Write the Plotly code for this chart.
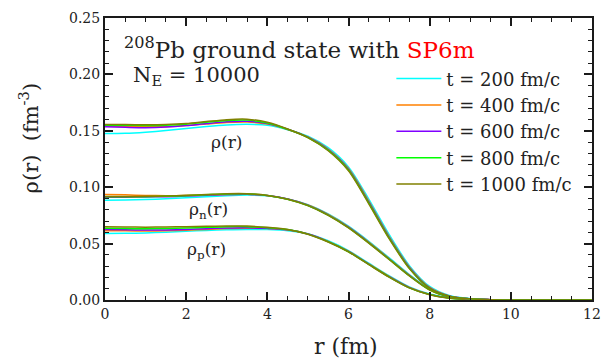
import plotly.graph_objects as go

# radial grid (fm)
R = [0, 0.5, 1, 1.5, 2, 2.5, 3, 3.5, 4, 4.5, 5, 5.5, 6, 6.5, 7, 7.5, 8, 8.5, 9, 9.5, 10, 11, 12]

TIMES = ["200", "400", "600", "800", "1000"]
COLORS = ["#00ffff", "#ff8000", "#8000ff", "#00ff00", "#808000"]

# total density rho(r)
RHO_200 = [0.1475,0.1478,0.1488,0.1502,0.1520,0.1538,0.1552,0.1557,0.1550,0.1510,0.1452,0.1350,0.1180,0.0895,0.0582,0.0305,0.0120,0.0038,0.0012,0.0003,0.0001,0,0]
RHO_400 = [0.1540,0.1538,0.1535,0.1537,0.1546,0.1560,0.1573,0.1577,0.1560,0.1512,0.1445,0.1338,0.1165,0.0877,0.0565,0.0293,0.0111,0.0034,0.0010,0.0003,0.0001,0,0]
RHO_600 = [0.1535,0.1531,0.1528,0.1533,0.1546,0.1564,0.1580,0.1584,0.1564,0.1514,0.1443,0.1333,0.1159,0.0869,0.0558,0.0288,0.0107,0.0033,0.0010,0.0003,0.0001,0,0]
RHO_800 = [0.1550,0.1549,0.1547,0.1550,0.1559,0.1576,0.1592,0.1595,0.1570,0.1514,0.1441,0.1328,0.1152,0.0861,0.0551,0.0282,0.0104,0.0032,0.0010,0.0003,0.0001,0,0]
RHO_1000 = [0.1556,0.1555,0.1553,0.1555,0.1564,0.1582,0.1599,0.1603,0.1575,0.1516,0.1439,0.1323,0.1145,0.0853,0.0544,0.0278,0.0102,0.0031,0.0010,0.0003,0.0001,0,0]

# neutron density rho_n(r)
RHON_200 = [0.0885,0.0886,0.0890,0.0897,0.0906,0.0916,0.0925,0.0930,0.0924,0.0896,0.0845,0.0764,0.0655,0.0521,0.0375,0.0226,0.0099,0.0033,0.0011,0.0003,0.0001,0,0]
RHON_400 = [0.0935,0.0932,0.0927,0.0925,0.0926,0.0930,0.0936,0.0938,0.0927,0.0895,0.0842,0.0758,0.0648,0.0513,0.0368,0.0220,0.0094,0.0030,0.0010,0.0003,0.0001,0,0]
RHON_600 = [0.0912,0.0912,0.0913,0.0916,0.0921,0.0929,0.0936,0.0938,0.0926,0.0895,0.0840,0.0755,0.0645,0.0510,0.0365,0.0218,0.0092,0.0030,0.0010,0.0003,0.0001,0,0]
RHON_800 = [0.0915,0.0915,0.0916,0.0919,0.0925,0.0933,0.0940,0.0941,0.0927,0.0894,0.0838,0.0753,0.0642,0.0507,0.0362,0.0215,0.0090,0.0029,0.0010,0.0003,0.0001,0,0]
RHON_1000 = [0.0918,0.0918,0.0919,0.0922,0.0928,0.0935,0.0942,0.0942,0.0927,0.0894,0.0837,0.0751,0.0639,0.0504,0.0359,0.0213,0.0089,0.0028,0.0009,0.0003,0.0001,0,0]

# proton density rho_p(r)
RHOP_200 = [0.0590,0.0591,0.0595,0.0601,0.0609,0.0617,0.0623,0.0626,0.0624,0.0614,0.0588,0.0525,0.0438,0.0326,0.0215,0.0116,0.0053,0.0018,0.0006,0.0002,0.0001,0,0]
RHOP_400 = [0.0615,0.0613,0.0612,0.0614,0.0619,0.0626,0.0633,0.0636,0.0633,0.0620,0.0586,0.0520,0.0432,0.0320,0.0209,0.0111,0.0050,0.0017,0.0006,0.0002,0.0001,0,0]
RHOP_600 = [0.0625,0.0622,0.0620,0.0621,0.0625,0.0632,0.0638,0.0640,0.0635,0.0622,0.0585,0.0518,0.0430,0.0318,0.0207,0.0110,0.0049,0.0017,0.0006,0.0002,0.0001,0,0]
RHOP_800 = [0.0635,0.0633,0.0632,0.0634,0.0638,0.0644,0.0650,0.0650,0.0641,0.0624,0.0584,0.0516,0.0428,0.0316,0.0205,0.0108,0.0048,0.0016,0.0006,0.0002,0.0001,0,0]
RHOP_1000 = [0.0650,0.0648,0.0646,0.0647,0.0650,0.0654,0.0657,0.0655,0.0644,0.0626,0.0583,0.0514,0.0426,0.0314,0.0203,0.0107,0.0047,0.0016,0.0005,0.0002,0.0001,0,0]

TOTAL = [RHO_200, RHO_400, RHO_600, RHO_800, RHO_1000]
NEUTRON = [RHON_200, RHON_400, RHON_600, RHON_800, RHON_1000]
PROTON = [RHOP_200, RHOP_400, RHOP_600, RHOP_800, RHOP_1000]

FONT = "DejaVu Serif"
TXT = "#222222"

fig = go.Figure()
for group_idx, group in enumerate([PROTON, NEUTRON, TOTAL]):
    for i, ys in enumerate(group):
        fig.add_trace(go.Scatter(
            x=R, y=ys, mode="lines",
            line=dict(color=COLORS[i], width=1.5, shape="spline", smoothing=0.8),
            name=f"t = {TIMES[i]} fm/c",
            legendgroup=TIMES[i],
            showlegend=(group_idx == 2),
            hoverinfo="skip",
        ))

axis_common = dict(
    showline=True, linecolor="#1a1a1a", linewidth=2, mirror="ticks",
    ticks="inside", ticklen=8, tickwidth=1.5, tickcolor="#1a1a1a",
    showgrid=False, zeroline=False, ticklabeloverflow="allow",
    tickfont=dict(family=FONT, size=14, color=TXT),
)

fig.update_layout(
    width=608, height=360,
    margin=dict(l=105, r=7, t=18, b=60),
    paper_bgcolor="white", plot_bgcolor="white",
    xaxis=dict(range=[0, 12], dtick=2, tick0=0,
               minor=dict(dtick=0.5, ticks="inside", ticklen=4, tickwidth=1.2, tickcolor="#1a1a1a", showgrid=False),
               **axis_common),
    yaxis=dict(range=[0, 0.25], dtick=0.05, tick0=0, tickformat=".2f",
               minor=dict(dtick=0.01, ticks="inside", ticklen=4, tickwidth=1.2, tickcolor="#1a1a1a", showgrid=False),
               **axis_common),
    legend=dict(x=0.588, y=0.85, xanchor="left", yanchor="top",
                font=dict(family=FONT, size=18, color=TXT),
                bgcolor="rgba(0,0,0,0)", itemwidth=45, tracegroupgap=0),
    showlegend=True,
)

annots = [
    dict(text="<sup>208</sup>Pb ground state with <span style='color:#ff0000'>SP6m</span>",
         xref="paper", yref="paper", x=0.034, y=0.894, xanchor="left", yanchor="middle",
         font=dict(family=FONT, size=23, color=TXT), showarrow=False),
    dict(text="N<sub>E</sub> = 10000",
         xref="paper", yref="paper", x=0.054, y=0.794, xanchor="left", yanchor="middle",
         font=dict(family=FONT, size=21, color=TXT), showarrow=False),
    dict(text="ρ(r)", xref="x", yref="y", x=3.0, y=0.140, showarrow=False,
         font=dict(family=FONT, size=17, color=TXT)),
    dict(text="ρ<sub>n</sub>(r)", xref="x", yref="y", x=2.54, y=0.0796, showarrow=False,
         font=dict(family=FONT, size=17, color=TXT)),
    dict(text="ρ<sub>p</sub>(r)", xref="x", yref="y", x=2.5, y=0.0442, showarrow=False,
         font=dict(family=FONT, size=17, color=TXT)),
    dict(text="r (fm)", xref="paper", yref="paper", x=(350 - 105) / 496, y=-(346 - 300) / 282,
         xanchor="center", yanchor="middle", showarrow=False,
         font=dict(family=FONT, size=22, color=TXT)),
    dict(text="ρ(r)  (fm<sup>-3</sup>)", xref="paper", yref="paper", x=(28 - 105) / 496, y=1 - (138 - 18) / 282,
         xanchor="center", yanchor="middle", textangle=-90, showarrow=False,
         font=dict(family=FONT, size=21, color=TXT)),
]
fig.update_layout(annotations=annots)

fig.write_html("out.html")
